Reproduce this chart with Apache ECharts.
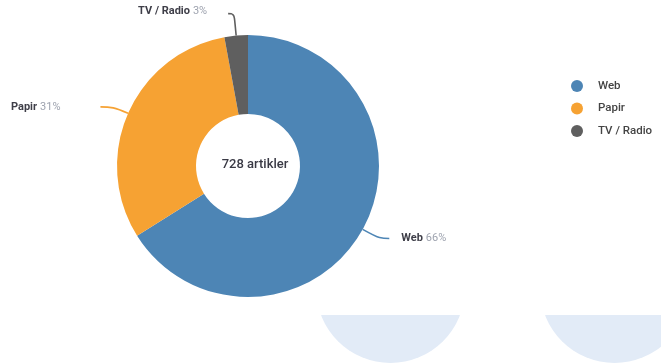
<!DOCTYPE html>
<html>
<head>
<meta charset="utf-8">
<script src="https://cdn.jsdelivr.net/npm/echarts@6/dist/echarts.min.js"></script>
<style>
  html, body { margin: 0; padding: 0; background: #fff; }
  #chart { width: 661px; height: 364px; }
</style>
</head>
<body>
<div id="chart"></div>
<script>
// Articles by media type
const categories = ['Web', 'Papir', 'TV / Radio'];
const articleCounts = [481, 226, 21];
const sliceColors = ['#4d85b5', '#f6a233', '#5f5f5f'];
const totalLabel = '728 artikler';

// per-slice leader line lengths and label spacing
const lineLengths = [[19, 10], [16, 13], [22, 6]];
const labelPadding = [[0, 0, 0, 7], [0, 35, 0, 0], [0, 16, 4, 0]];

const chart = echarts.init(document.getElementById('chart'), null, { renderer: 'canvas' });

const pieData = categories.map((name, i) => ({
  name: name,
  value: articleCounts[i],
  itemStyle: { color: sliceColors[i] },
  label: { padding: labelPadding[i] },
  labelLine: {
    length: lineLengths[i][0],
    length2: lineLengths[i][1],
    lineStyle: { color: sliceColors[i] }
  }
}));

chart.setOption({
  animation: false,
  textStyle: { fontFamily: 'Roboto, sans-serif' },
  legend: {
    orient: 'vertical',
    left: 566,
    top: 75,
    icon: 'circle',
    itemWidth: 12,
    itemHeight: 12,
    itemGap: 10.5,
    selectedMode: false,
    data: categories,
    textStyle: {
      color: '#444',
      fontSize: 11.5,
      fontWeight: 500,
      padding: [0, 0, 0, 10]
    }
  },
  graphic: [
    // pale discs peeking in from the panel below, cut off by a white band
    {
      type: 'circle', silent: true, z: 0,
      shape: { cx: 390.5, cy: 288.7, r: 74.3 },
      style: { fill: '#e2ebf7' }
    },
    {
      type: 'circle', silent: true, z: 0,
      shape: { cx: 614.5, cy: 288.7, r: 74.3 },
      style: { fill: '#e2ebf7' }
    },
    {
      type: 'rect', silent: true, z: 1,
      shape: { x: 300, y: 200, width: 361, height: 115 },
      style: { fill: '#ffffff' }
    },
    {
      type: 'text', silent: true, z: 10,
      x: 255, y: 165,
      style: {
        text: totalLabel,
        fill: '#3a3a45',
        fontSize: 13,
        fontWeight: 500,
        fontFamily: 'Roboto, sans-serif',
        align: 'center',
        verticalAlign: 'middle'
      }
    }
  ],
  series: [{
    type: 'pie',
    z: 5,
    center: [248, 166],
    radius: [52, 131],
    startAngle: 90,
    clockwise: true,
    percentPrecision: 0,
    avoidLabelOverlap: false,
    emphasis: { disabled: true },
    itemStyle: { borderWidth: 0 },
    label: {
      show: true,
      position: 'outside',
      formatter: '{n|{b}} {p|{d}%}',
      rich: {
        n: { fontSize: 11, fontWeight: 'bold', color: '#3e3e48', fontFamily: 'Roboto, sans-serif' },
        p: { fontSize: 11, color: '#9ea3af', fontFamily: 'Roboto, sans-serif' }
      }
    },
    labelLine: {
      show: true,
      smooth: 0.4,
      lineStyle: { width: 1.6 }
    },
    data: pieData
  }]
});
</script>
</body>
</html>
